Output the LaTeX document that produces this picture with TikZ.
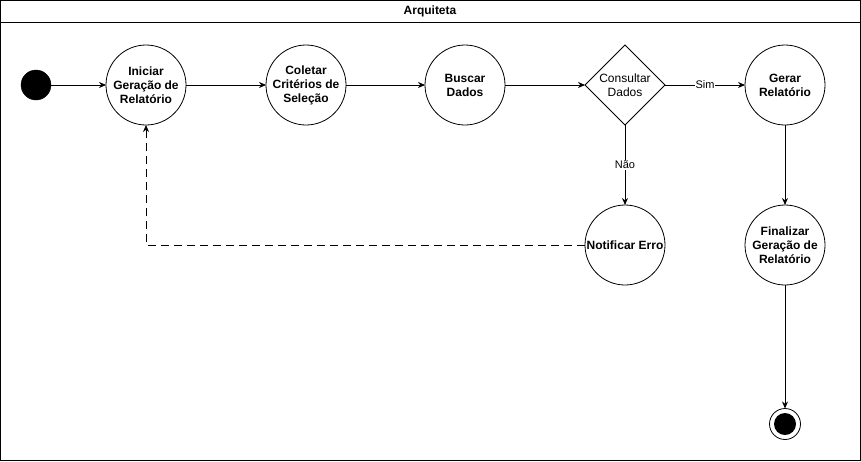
\documentclass[tikz,border=0pt]{standalone}
\usepackage{fontspec}
\setmainfont{Liberation Sans}
\usetikzlibrary{shapes.geometric,arrows.meta}
\begin{document}
\begin{tikzpicture}[x=1pt,y=-1pt,
  every node/.style={inner sep=0pt,outer sep=0pt},
  state/.style={circle,draw,line width=0.8pt,minimum size=80pt,align=center,font=\bfseries\fontsize{12}{14}\selectfont},
  decision/.style={diamond,draw,line width=0.8pt,minimum width=80pt,minimum height=80pt,align=center,font=\fontsize{12}{14}\selectfont},
  flow/.style={line width=0.8pt,-{Stealth[length=7pt,width=6pt]}},
  lbl/.style={fill=white,inner sep=1pt,font=\fontsize{11}{13}\selectfont}]
\useasboundingbox (0,0) rectangle (861,461);
\draw[line width=0.8pt] (0.5,0.5) rectangle (860,460);
\draw[line width=0.8pt] (0.5,22) -- (860,22);
\node[font=\bfseries\fontsize{12}{14}\selectfont] (title) at (430,11.5) {Arquiteta};
\node[circle,fill=black,draw,minimum size=30pt] (start) at (36,85) {};
\node[state] (ini) at (146,85) {Iniciar\\Geração de\\Relatório};
\node[state] (col) at (306,85) {Coletar\\Critérios de\\Seleção};
\node[state] (bus) at (465,85) {Buscar\\Dados};
\node[decision] (cons) at (625,85) {Consultar\\Dados};
\node[state] (ger) at (785,85) {Gerar\\Relatório};
\node[state] (erro) at (625,245) {Notificar Erro};
\node[state] (fin) at (785,245) {Finalizar\\Geração de\\Relatório};
\node[circle,draw,line width=0.8pt,minimum size=31pt] (endo) at (785,424) {};
\node[circle,fill=black,minimum size=22pt] (endi) at (785,424) {};
\draw[flow] (start) -- (ini);
\draw[flow] (ini) -- (col);
\draw[flow] (col) -- (bus);
\draw[flow] (bus) -- (cons);
\draw[flow] (cons) -- node[lbl] {Sim} (ger);
\draw[flow] (cons) -- node[lbl] {Não} (erro);
\draw[flow] (ger) -- (fin);
\draw[flow] (fin) -- (endo);
\draw[flow,dash pattern=on 8pt off 5pt] (erro.west) -| (ini.south);
\end{tikzpicture}
\end{document}
